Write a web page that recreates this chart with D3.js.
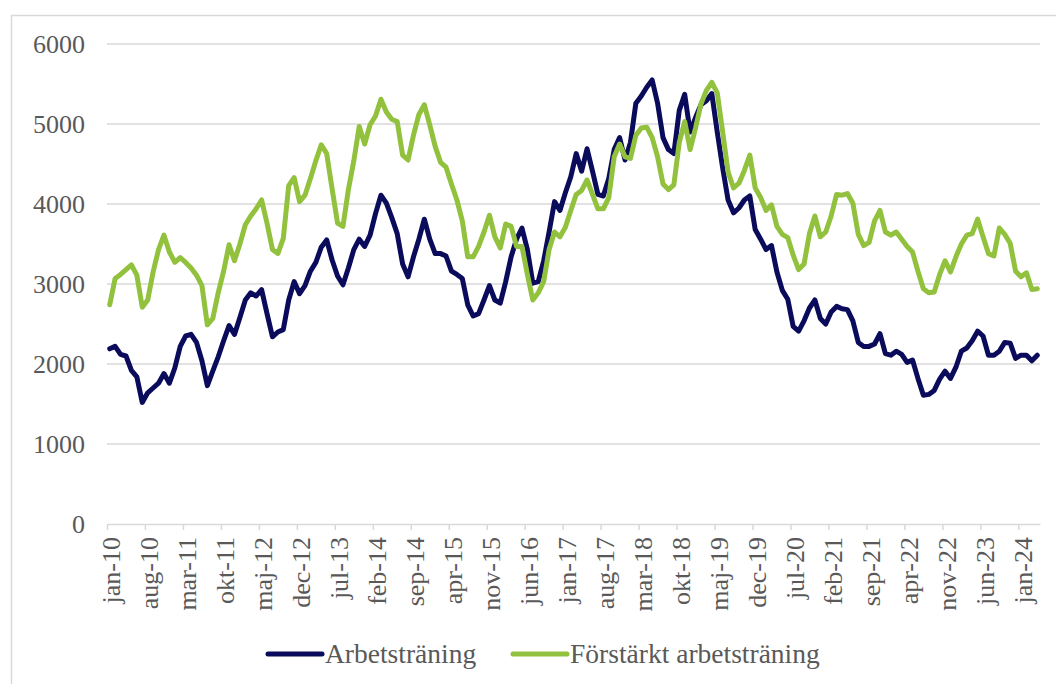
<!DOCTYPE html>
<html>
<head>
<meta charset="utf-8">
<script src="https://cdn.jsdelivr.net/npm/d3@7"></script>
<style>
  body { margin: 0; background: #ffffff; }
  svg { display: block; }
</style>
</head>
<body>
<svg></svg>
<script>
// month names used for the category labels (Swedish)
let monthNames = ["jan", "feb", "mar", "apr", "maj", "jun", "jul", "aug", "sep", "okt", "nov", "dec"];
let firstYear = 2010;
let monthCount = 172; // jan-10 .. apr-24

let yTicks = [0, 1000, 2000, 3000, 4000, 5000, 6000];

let seriesNames = ["Arbetsträning", "Förstärkt arbetsträning"];
let seriesColors = ["#0b0b5c", "#92c13e"];

let arbetstraning = [
    2190, 2220, 2120, 2100, 1920, 1840, 1520, 1640, 1700, 1760, 1880, 1760,
    1950, 2220, 2350, 2370, 2270, 2040, 1730, 1910, 2090, 2290, 2480, 2370,
    2580, 2800, 2890, 2850, 2930, 2630, 2340, 2400, 2430, 2800, 3030, 2880,
    2980, 3160, 3270, 3460, 3550, 3300, 3100, 2990, 3200, 3430, 3560,
    3470, 3610, 3880, 4110, 4010, 3830, 3630, 3250, 3090, 3340, 3560, 3810,
    3560, 3380, 3380, 3350, 3160, 3120, 3070, 2740, 2600, 2630, 2800, 2980,
    2800, 2760, 3030, 3340, 3560, 3700, 3430, 3010, 3030, 3290, 3650, 4030,
    3920, 4140, 4340, 4630, 4410, 4690, 4410, 4120, 4100, 4320, 4680, 4830,
    4550, 4770, 5260, 5350, 5460, 5550, 5260, 4830, 4680, 4630, 5170, 5370,
    4900, 5080, 5240, 5290, 5380, 4900, 4450, 4050, 3890, 3950, 4050, 4100,
    3680, 3560, 3430, 3480, 3150, 2920, 2810, 2470, 2410, 2540, 2700, 2800,
    2570, 2500, 2650, 2720, 2690, 2680, 2540, 2270, 2220, 2220, 2250, 2380,
    2130, 2110, 2160, 2120, 2020, 2050, 1820, 1610, 1620, 1670, 1810, 1910,
    1820, 1960, 2160, 2200, 2290, 2410, 2350, 2110, 2110, 2160, 2270, 2260,
    2070, 2110, 2110, 2040, 2110
];

let forstarkt = [
    2740, 3070, 3120, 3180, 3240, 3110, 2710, 2800, 3150, 3430, 3610, 3400,
    3270, 3330, 3270, 3200, 3110, 2980, 2490, 2570, 2890, 3160, 3490, 3290,
    3500, 3740, 3850, 3940, 4050, 3760, 3430, 3380, 3570, 4230, 4330, 4030,
    4110, 4320, 4540, 4740, 4630, 4190, 3760, 3720, 4180, 4540, 4970,
    4750, 4990, 5100, 5310, 5150, 5060, 5030, 4610, 4550, 4860, 5120, 5240,
    4990, 4720, 4520, 4460, 4250, 4050, 3790, 3340, 3340, 3470, 3650, 3860,
    3590, 3450, 3750, 3720, 3470, 3470, 3120, 2800, 2890, 3030, 3430, 3650,
    3590, 3710, 3920, 4120, 4170, 4300, 4120, 3940, 3940, 4080, 4590, 4750,
    4590, 4570, 4860, 4950, 4960, 4830, 4590, 4250, 4180, 4240, 4770, 5030,
    4680, 4950, 5250, 5420, 5520, 5390, 4900, 4400, 4200, 4260, 4420, 4610,
    4200, 4080, 3920, 3990, 3720, 3620, 3580, 3360, 3180, 3250, 3630, 3850,
    3590, 3650, 3850, 4120, 4110, 4130, 4010, 3620, 3480, 3520, 3790, 3920,
    3650, 3610, 3650, 3560, 3470, 3400, 3160, 2940, 2890, 2900, 3120, 3290,
    3150, 3340, 3500, 3610, 3630, 3810, 3590, 3380, 3350, 3700, 3620, 3510,
    3160, 3090, 3140, 2930, 2940
];

let categories = d3.range(monthCount).map((i) => {
    let year = firstYear + Math.floor(i / 12);
    return monthNames[i % 12] + "-" + String(year).slice(2);
});

let width = 1056;
let height = 684;
let plotLeft = 107;
let plotRight = 1040;
let plotTop = 44;
let plotBottom = 524;
let font = "'Liberation Serif', 'Times New Roman', serif";
let textColor = "#595959";
let gridColor = "#d9d9d9";

let svg = d3.select("svg")
    .attr("width", width)
    .attr("height", height);

// chart frame
svg.append("rect")
    .attr("x", 11.5)
    .attr("y", 15.5)
    .attr("width", 1060)
    .attr("height", 700)
    .attr("fill", "none")
    .attr("stroke", gridColor)
    .attr("stroke-width", 1.5);

let xScale = d3.scaleLinear()
    .domain([0, monthCount])
    .range([plotLeft, plotRight]);

let yScale = d3.scaleLinear()
    .domain([0, 6000])
    .range([plotBottom, plotTop]);

let step = xScale(1) - xScale(0);

// gridlines
svg.append("g")
    .selectAll("line")
    .data(yTicks.slice(1))
    .enter()
    .append("line")
    .attr("x1", plotLeft)
    .attr("x2", plotRight)
    .attr("y1", (d) => yScale(d))
    .attr("y2", (d) => yScale(d))
    .attr("stroke", gridColor)
    .attr("stroke-width", 1.5);

// y labels
svg.append("g")
    .selectAll("text")
    .data(yTicks)
    .enter()
    .append("text")
    .attr("x", 85)
    .attr("y", (d) => yScale(d))
    .attr("dy", "0.35em")
    .attr("text-anchor", "end")
    .attr("font-family", font)
    .attr("font-size", 26)
    .attr("fill", textColor)
    .text((d) => d);

// x axis, a tick every 7th month
let xAxis = d3.axisBottom(xScale)
    .tickValues(d3.range(0, monthCount, 7))
    .tickSize(6)
    .tickSizeOuter(0)
    .tickFormat((d) => categories[d]);

let xAxisG = svg.append("g")
    .attr("transform", "translate(0," + plotBottom + ")")
    .call(xAxis);

xAxisG.select(".domain")
    .attr("stroke", gridColor)
    .attr("stroke-width", 1.5);

xAxisG.selectAll(".tick line")
    .attr("stroke", gridColor)
    .attr("stroke-width", 1.5);

xAxisG.selectAll(".tick text")
    .attr("font-family", font)
    .attr("font-size", 26)
    .attr("fill", textColor)
    .attr("text-anchor", "end")
    .attr("dy", "0.35em")
    .attr("y", 0)
    .attr("transform", "translate(" + (step / 2 + 1) + ",13) rotate(-90)");

// lines
let line = d3.line()
    .x((d, i) => xScale(i + 0.5))
    .y((d) => yScale(d))
    .curve(d3.curveLinear);

[arbetstraning, forstarkt].forEach((values, k) => {
    svg.append("path")
        .datum(values)
        .attr("d", line)
        .attr("fill", "none")
        .attr("stroke", seriesColors[k])
        .attr("stroke-width", 5)
        .attr("stroke-linejoin", "round")
        .attr("stroke-linecap", "round");
});

// legend
let legendX = [268, 513];
let legend = svg.append("g");

seriesNames.forEach((name, k) => {
    legend.append("line")
        .attr("x1", legendX[k])
        .attr("x2", legendX[k] + 54)
        .attr("y1", 654)
        .attr("y2", 654)
        .attr("stroke", seriesColors[k])
        .attr("stroke-width", 5)
        .attr("stroke-linecap", "round");

    legend.append("text")
        .attr("x", legendX[k] + 57)
        .attr("y", 663)
        .attr("font-family", font)
        .attr("font-size", 27.5)
        .attr("fill", textColor)
        .text(name);
});
</script>
</body>
</html>
